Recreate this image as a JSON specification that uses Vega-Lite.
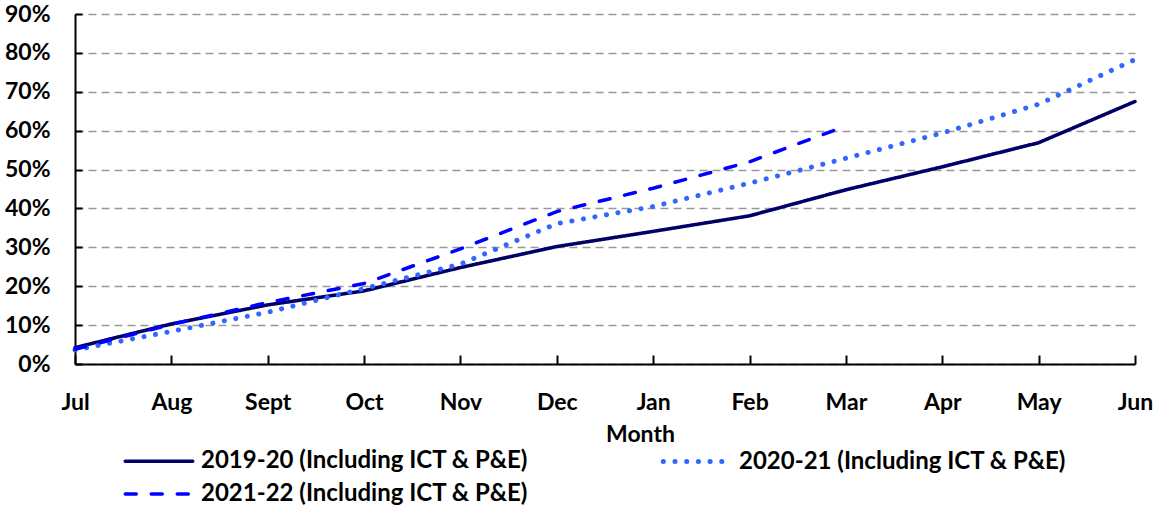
{
  "$schema": "https://vega.github.io/schema/vega-lite/v6.json",
  "width": 1060,
  "height": 350,
  "autosize": {"type": "none"},
  "padding": {"left": 75, "top": 14, "right": 18, "bottom": 144},
  "background": "white",
  "data": {
    "values": [
      {"month": "Jul", "series": "2019-20 (Including ICT & P&E)", "value": 0.042},
      {"month": "Aug", "series": "2019-20 (Including ICT & P&E)", "value": 0.103},
      {"month": "Sept", "series": "2019-20 (Including ICT & P&E)", "value": 0.152},
      {"month": "Oct", "series": "2019-20 (Including ICT & P&E)", "value": 0.188},
      {"month": "Nov", "series": "2019-20 (Including ICT & P&E)", "value": 0.248},
      {"month": "Dec", "series": "2019-20 (Including ICT & P&E)", "value": 0.302},
      {"month": "Jan", "series": "2019-20 (Including ICT & P&E)", "value": 0.341},
      {"month": "Feb", "series": "2019-20 (Including ICT & P&E)", "value": 0.381},
      {"month": "Mar", "series": "2019-20 (Including ICT & P&E)", "value": 0.448},
      {"month": "Apr", "series": "2019-20 (Including ICT & P&E)", "value": 0.507},
      {"month": "May", "series": "2019-20 (Including ICT & P&E)", "value": 0.569},
      {"month": "Jun", "series": "2019-20 (Including ICT & P&E)", "value": 0.675},
      {"month": "Jul", "series": "2020-21 (Including ICT & P&E)", "value": 0.036},
      {"month": "Aug", "series": "2020-21 (Including ICT & P&E)", "value": 0.084},
      {"month": "Sept", "series": "2020-21 (Including ICT & P&E)", "value": 0.133},
      {"month": "Oct", "series": "2020-21 (Including ICT & P&E)", "value": 0.194},
      {"month": "Nov", "series": "2020-21 (Including ICT & P&E)", "value": 0.257},
      {"month": "Dec", "series": "2020-21 (Including ICT & P&E)", "value": 0.361},
      {"month": "Jan", "series": "2020-21 (Including ICT & P&E)", "value": 0.405},
      {"month": "Feb", "series": "2020-21 (Including ICT & P&E)", "value": 0.465},
      {"month": "Mar", "series": "2020-21 (Including ICT & P&E)", "value": 0.529},
      {"month": "Apr", "series": "2020-21 (Including ICT & P&E)", "value": 0.594},
      {"month": "May", "series": "2020-21 (Including ICT & P&E)", "value": 0.668},
      {"month": "Jun", "series": "2020-21 (Including ICT & P&E)", "value": 0.783},
      {"month": "Jul", "series": "2021-22 (Including ICT & P&E)", "value": 0.038},
      {"month": "Aug", "series": "2021-22 (Including ICT & P&E)", "value": 0.102},
      {"month": "Sept", "series": "2021-22 (Including ICT & P&E)", "value": 0.158},
      {"month": "Oct", "series": "2021-22 (Including ICT & P&E)", "value": 0.207},
      {"month": "Nov", "series": "2021-22 (Including ICT & P&E)", "value": 0.296},
      {"month": "Dec", "series": "2021-22 (Including ICT & P&E)", "value": 0.392},
      {"month": "Jan", "series": "2021-22 (Including ICT & P&E)", "value": 0.452},
      {"month": "Feb", "series": "2021-22 (Including ICT & P&E)", "value": 0.52},
      {"month": "Mar", "series": "2021-22 (Including ICT & P&E)", "value": 0.612}
    ]
  },
  "mark": {"type": "line", "strokeCap": "round", "strokeJoin": "round"},
  "encoding": {
    "x": {
      "field": "month",
      "type": "ordinal",
      "sort": ["Jul", "Aug", "Sept", "Oct", "Nov", "Dec", "Jan", "Feb", "Mar", "Apr", "May", "Jun"],
      "scale": {"type": "point", "padding": 0},
      "axis": {
        "title": "Month",
        "labelAngle": 0,
        "labelFont": "Lato",
        "labelFontWeight": "bold",
        "labelFontSize": 23,
        "labelColor": "black",
        "labelBaseline": "alphabetic",
        "labelPadding": 54,
        "tickSize": -9,
        "tickColor": "black",
        "tickWidth": 2,
        "domainColor": "black",
        "domainWidth": 2,
        "titleFont": "Lato",
        "titleFontWeight": "bold",
        "titleFontSize": 23,
        "titleColor": "black",
        "titleAlign": "center",
        "titleBaseline": "alphabetic",
        "titleX": 565,
        "titleY": 77
      }
    },
    "y": {
      "field": "value",
      "type": "quantitative",
      "scale": {"domain": [0, 0.9], "nice": false},
      "axis": {
        "title": null,
        "format": ".0%",
        "values": [0, 0.1, 0.2, 0.3, 0.4, 0.5, 0.6, 0.7, 0.8, 0.9],
        "labelFont": "Lato",
        "labelFontWeight": "bold",
        "labelFontSize": 23,
        "labelColor": "black",
        "labelPadding": 32,
        "tickSize": -7,
        "tickColor": "black",
        "tickWidth": 2,
        "domainColor": "black",
        "domainWidth": 2,
        "grid": true,
        "gridColor": "#999999",
        "gridDash": [8, 5],
        "gridWidth": 1.5
      }
    },
    "strokeWidth": {
      "field": "series",
      "type": "nominal",
      "scale": {"type": "ordinal", "range": [3.5, 5, 3.5]},
      "legend": null
    },
    "color": {
      "field": "series",
      "type": "nominal",
      "scale": {"range": ["#000066", "#3366FF", "#0000FF"]},
      "legend": {
        "title": null,
        "orient": "none",
        "legendX": 68,
        "legendY": 431.5,
        "direction": "horizontal",
        "columns": 2,
        "columnPadding": 124,
        "rowPadding": 5,
        "labelFont": "Lato",
        "labelFontWeight": "bold",
        "labelFontSize": 24,
        "labelColor": "black",
        "labelOffset": 26,
        "labelLimit": 600,
        "symbolType": "M-2.5,0H2.5",
        "symbolSize": 729,
        "symbolStrokeWidth": 4,
        "encode": {"symbols": {"update": {"strokeCap": {"value": "round"}}}}
      }
    },
    "strokeDash": {
      "field": "series",
      "type": "nominal",
      "scale": {"range": [[1, 0], [0.1, 11.6], [11, 15]]},
      "legend": {
        "title": null,
        "orient": "none",
        "legendX": 68,
        "legendY": 431.5,
        "direction": "horizontal",
        "columns": 2,
        "columnPadding": 124,
        "rowPadding": 5,
        "labelFont": "Lato",
        "labelFontWeight": "bold",
        "labelFontSize": 24,
        "labelColor": "black",
        "labelOffset": 26,
        "labelLimit": 600,
        "symbolType": "M-2.5,0H2.5",
        "symbolSize": 729,
        "symbolStrokeWidth": 4,
        "encode": {"symbols": {"update": {"strokeCap": {"value": "round"}}}}
      }
    }
  },
  "config": {"view": {"stroke": null}}
}
